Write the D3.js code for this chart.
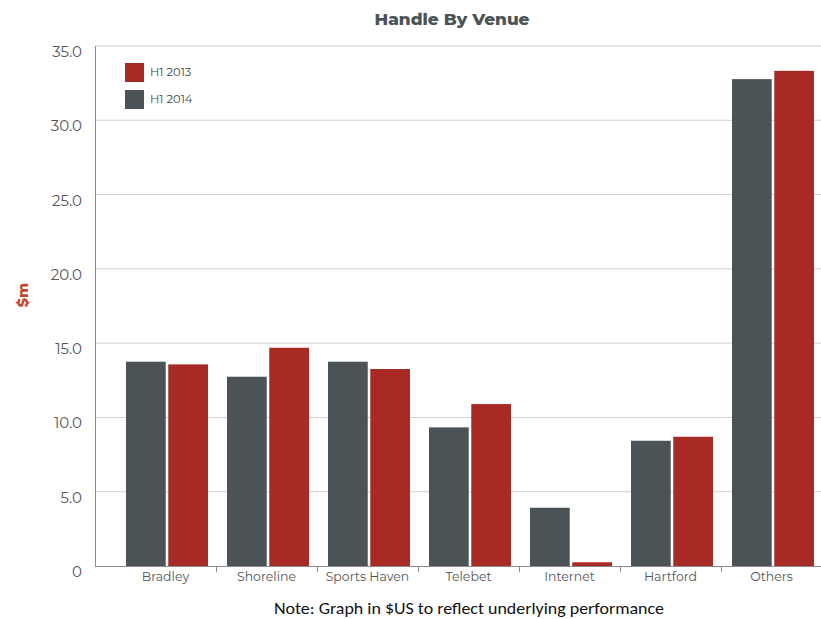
<!DOCTYPE html>
<html><head><meta charset="utf-8">
<script src="https://cdn.jsdelivr.net/npm/d3@7"></script>
<style>body{margin:0;background:#fff}svg{display:block}</style>
</head><body>
<script>
const categories = ["Bradley","Shoreline","Sports Haven","Telebet","Internet","Hartford","Others"];
const seriesNames = ["H1 2014","H1 2013"];
const h1_2014 = [13.75, 12.74, 13.75, 9.33, 3.92, 8.43, 32.77];
const h1_2013 = [13.57, 14.69, 13.26, 10.9, 0.25, 8.70, 33.33];
const yTicks = [0,5,10,15,20,25,30,35];
const legendOrder = ["H1 2013","H1 2014"];
const colors = {"H1 2014":"#4b5357","H1 2013":"#a72a25"};

const W=821,H=619;
const svg=d3.select("body").append("svg").attr("width",W).attr("height",H);
const x=d3.scaleBand().domain(categories).range([115,822]).paddingInner(0).paddingOuter(0);
const y=d3.scaleLinear().domain([0,35]).range([566,46]);
const xs=d3.scaleBand().domain(seriesNames).range([11,93]).paddingInner(0.06);

const font="Montserrat, 'Open Sans', 'DejaVu Sans', sans-serif";

// gridlines
svg.append("g").selectAll("line").data(yTicks.filter(d=>d>0)).join("line")
 .attr("x1",95).attr("x2",821).attr("y1",d=>y(d)).attr("y2",d=>y(d))
 .attr("stroke","#cfcfcf").attr("stroke-width",1);

// y tick labels
svg.append("g").selectAll("text").data(yTicks).join("text")
 .attr("x",82).attr("y",d=>y(d)+7).attr("text-anchor","end").attr("dominant-baseline","middle")
 .attr("font-family",font).attr("font-size",15).attr("fill","#555")
 .text(d=>d===0?"0":d.toFixed(1));

// bars
const data=categories.map((c,i)=>({c,vals:[{s:"H1 2014",v:h1_2014[i]},{s:"H1 2013",v:h1_2013[i]}]}));
const g=svg.append("g").selectAll("g").data(data).join("g").attr("transform",d=>`translate(${x(d.c)},0)`);
g.selectAll("rect").data(d=>d.vals).join("rect")
 .attr("x",d=>xs(d.s)).attr("width",xs.bandwidth())
 .attr("y",d=>y(d.v)).attr("height",d=>y(0)-y(d.v)).attr("fill",d=>colors[d.s]);

// axes lines
svg.append("line").attr("x1",95.5).attr("x2",95.5).attr("y1",46).attr("y2",566).attr("stroke","#8a8a8a");
svg.append("line").attr("x1",95).attr("x2",821).attr("y1",566.5).attr("y2",566.5).attr("stroke","#8a8a8a");
// tick marks at band boundaries
svg.append("g").selectAll("line").data(categories.slice(1)).join("line")
 .attr("x1",d=>x(d)+0.5).attr("x2",d=>x(d)+0.5).attr("y1",566).attr("y2",572).attr("stroke","#8a8a8a");

// x labels
svg.append("g").selectAll("text").data(categories).join("text")
 .attr("x",d=>x(d)+x.bandwidth()/2).attr("y",578).attr("text-anchor","middle").attr("dominant-baseline","middle")
 .attr("font-family",font).attr("font-size",12.5).attr("fill","#555").text(d=>d);

// title
svg.append("text").attr("x",452).attr("y",25).attr("text-anchor","middle")
 .attr("font-family",font).attr("font-weight","800").attr("font-size",16.5).attr("fill","#4b5357")
 .attr("textLength",155).attr("lengthAdjust","spacingAndGlyphs")
 .text("Handle By Venue");

// y label
svg.append("text").attr("transform","translate(28,295) rotate(-90)").attr("text-anchor","middle")
 .attr("font-family",font).attr("font-weight","800").attr("font-size",14.5).attr("fill","#c8462e").text("$m");

// legend
const lg=svg.append("g").selectAll("g").data(legendOrder).join("g").attr("transform",(d,i)=>`translate(125,${63+i*27})`);
lg.append("rect").attr("width",19).attr("height",19).attr("fill",d=>colors[d]);
lg.append("text").attr("x",25).attr("y",10).attr("dominant-baseline","middle")
 .attr("font-family",font).attr("font-size",11.5).attr("fill","#444").text(d=>d);

// note
svg.append("text").attr("x",469).attr("y",614).attr("text-anchor","middle")
 .attr("font-family","Carlito, 'Liberation Sans', sans-serif").attr("font-size",17).attr("fill","#111")
 .attr("textLength",390).attr("lengthAdjust","spacingAndGlyphs")
 .text("Note: Graph in $US to reflect underlying performance");
</script>
</body></html>
